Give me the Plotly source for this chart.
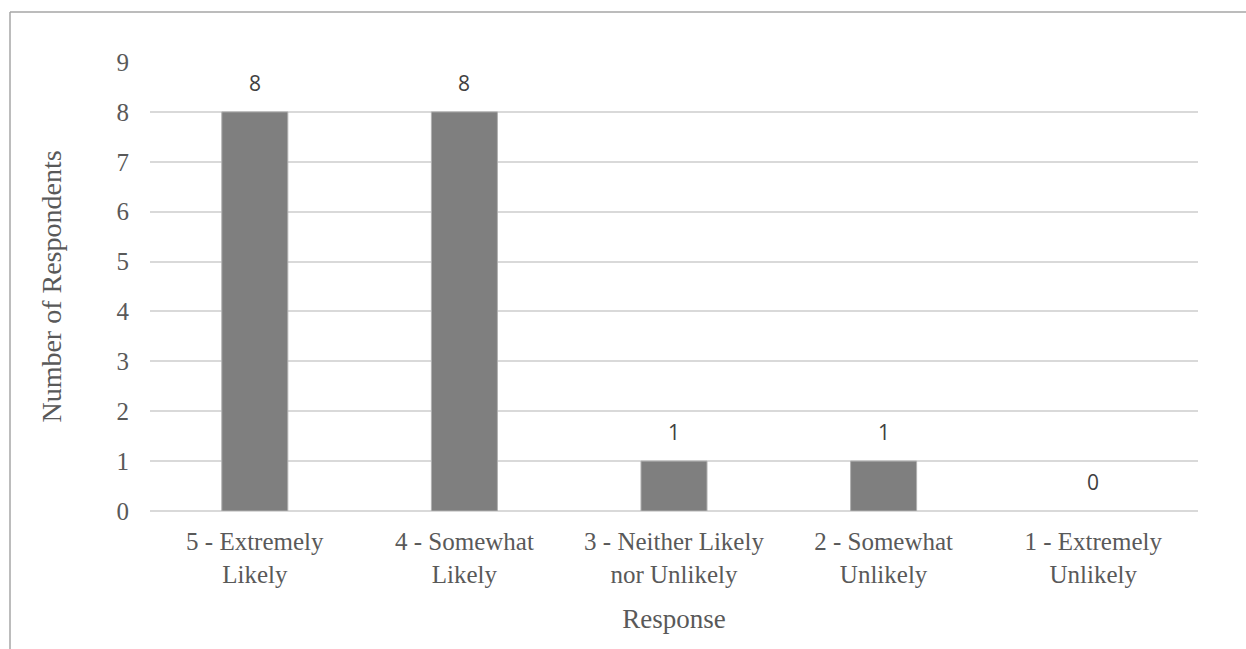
import plotly.graph_objects as go

categories = ["5 - Extremely<br>Likely", "4 - Somewhat<br>Likely", "3 - Neither Likely<br>nor Unlikely",
              "2 - Somewhat<br>Unlikely", "1 - Extremely<br>Unlikely"]
counts = [8, 8, 1, 1, 0]
y_ticks = list(range(0, 10))

W, H = 1246, 649
ML, MR, MT, MB = 150, 48, 62, 138
pw, ph = W - ML - MR, H - MT - MB

fig = go.Figure()
fig.add_trace(go.Bar(
    x=categories, y=counts,
    marker=dict(color="#7f7f7f",
                line=dict(color="#b0b0b0", width=[1 if v > 0 else 0 for v in counts])),
    width=0.315,
))

for c, v in zip(categories, counts):
    fig.add_annotation(x=c, y=v, text=str(v), showarrow=False, yanchor="bottom", yshift=13,
                       font=dict(family="Open Sans, Liberation Sans, sans-serif", size=21, color="#404040"))

serif = "Liberation Serif, Times New Roman, serif"
fig.update_layout(
    width=W, height=H,
    margin=dict(l=ML, r=MR, t=MT, b=MB),
    paper_bgcolor="white", plot_bgcolor="white",
    showlegend=False,
    bargap=0.685,
    xaxis=dict(
        showgrid=False, showline=False, zeroline=False, ticks="",
        ticklabelstandoff=13,
        tickfont=dict(family=serif, size=25, color="#595959"),
        title=dict(text="Response", font=dict(family=serif, size=27, color="#595959"), standoff=22),
    ),
    yaxis=dict(
        range=[0, 9], tickvals=y_ticks, showgrid=True, gridcolor="#d9d9d9", gridwidth=1.5,
        zeroline=True, zerolinecolor="#d9d9d9", zerolinewidth=1.5, showline=False, ticks="",
        ticklabelstandoff=20,
        tickfont=dict(family=serif, size=25, color="#595959"),
        title=dict(text="Number of Respondents", font=dict(family=serif, size=28, color="#595959"), standoff=46),
    ),
)

# outer chart border (top and left visible)
bx0 = (10 - ML) / pw
by1 = (H - MB - 12) / ph
fig.add_shape(type="line", xref="paper", yref="paper", x0=bx0, x1=(W + 5 - ML) / pw, y0=by1, y1=by1,
              line=dict(color="#a6a6a6", width=1.5))
fig.add_shape(type="line", xref="paper", yref="paper", x0=bx0, x1=bx0, y0=by1, y1=-(MB + 5) / ph,
              line=dict(color="#a6a6a6", width=1.5))

fig.write_html("out.html")
